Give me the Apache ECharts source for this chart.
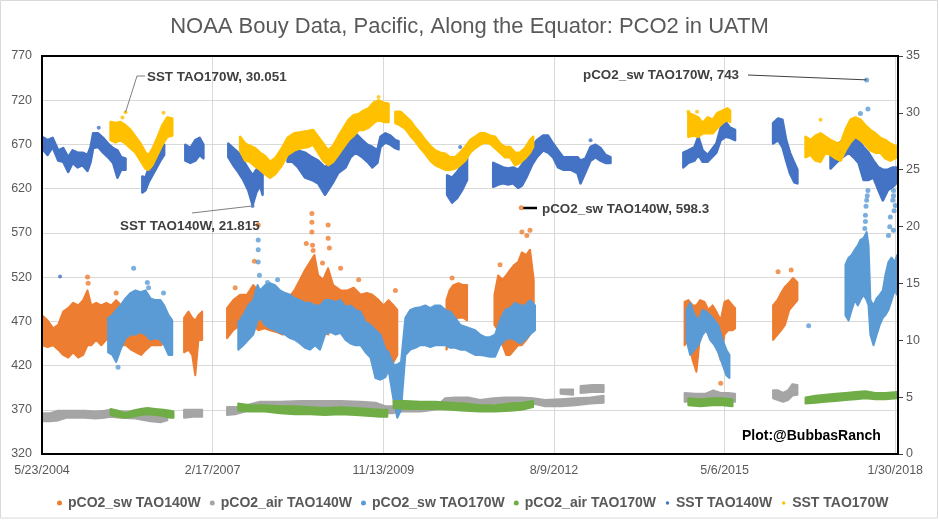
<!DOCTYPE html>
<html><head><meta charset="utf-8">
<script src="https://cdn.jsdelivr.net/npm/echarts@6/dist/echarts.min.js"></script>
<style>html,body{margin:0;padding:0;background:#fff}#c{width:939px;height:521px}</style>
</head><body><div id="c"></div>
<script>
// ---------- DATA (dates as decimal years; bands are [year, low, high]) ----------
const xTickLabels = ['5/23/2004','2/17/2007','11/13/2009','8/9/2012','5/6/2015','1/30/2018'];
const leftTicks = {min:320, max:770, step:50};
const rightTicks = {min:0, max:35, step:5};

const pco2sw140 = [
 [[2004.39,443,477],[2004.48,441,471],[2004.57,443,462],[2004.65,438,466],[2004.73,432,481],[2004.81,429,485],[2004.89,435,491],[2004.97,429,488],[2005.05,432,494],[2005.12,443,505],[2005.18,443,488],[2005.26,449,491],[2005.34,443,488],[2005.42,449,491],[2005.50,455,488],[2005.58,449,494],[2005.66,443,488],[2005.74,443,483],[2005.82,438,483],[2005.90,435,488],[2005.98,432,483],[2006.06,438,494],[2006.14,443,488],[2006.22,443,488],[2006.30,443,483],[2006.38,449,477]],
 [[2006.67,435,474],[2006.74,438,481],[2006.80,432,474],[2006.85,409,471],[2006.90,449,477],[2006.96,449,481]],
 [[2007.36,451,485],[2007.46,460,494],[2007.57,466,500],[2007.68,460,500],[2007.78,466,511],[2007.86,460,505],[2007.96,462,500],[2008.05,460,496],[2008.15,458,500],[2008.25,455,494],[2008.34,460,496],[2008.44,455,505],[2008.53,449,517],[2008.61,449,528],[2008.69,455,537],[2008.76,471,545],[2008.82,460,522],[2008.90,460,517],[2008.98,455,530],[2009.06,466,511],[2009.18,466,505],[2009.29,466,505],[2009.39,462,508],[2009.50,460,500],[2009.60,455,502],[2009.69,451,500],[2009.79,449,494],[2009.87,438,488],[2009.95,426,494],[2010.03,424,488],[2010.09,432,483]],
 [[2010.88,438,494],[2010.93,449,505],[2010.99,471,511],[2011.07,474,513],[2011.15,474,511],[2011.21,471,511]],
 [[2011.65,466,500],[2011.71,460,522],[2011.78,443,517],[2011.84,432,522],[2011.90,432,528],[2011.97,438,534],[2012.03,443,537],[2012.09,443,548],[2012.16,449,545],[2012.22,455,551],[2012.28,471,517]],
 [[2014.70,443,492],[2014.76,449,494],[2014.83,426,488],[2014.89,413,488],[2014.95,455,494],[2015.02,466,492],[2015.08,455,483],[2015.15,460,488],[2015.21,443,481],[2015.28,426,471],[2015.34,455,492],[2015.40,460,494],[2015.47,460,488],[2015.51,462,485]],
 [[2016.12,449,488],[2016.19,455,494],[2016.25,460,502],[2016.31,466,509],[2016.38,483,514],[2016.44,488,519],[2016.51,494,514]]
];
const pco2sw140Dots = [[2005.12,520],[2005.13,513],[2005.58,502],[2007.49,508],[2007.86,579],[2007.80,538],[2008.63,558],[2008.72,592],[2008.72,582],[2008.72,571],[2008.73,556],[2008.74,550],[2008.89,536],[2008.98,579],[2008.98,564],[2009.00,553],[2009.18,530],[2009.47,517],[2010.06,505],[2010.97,519],[2011.74,534],[2012.09,571],[2012.17,567],[2012.22,573],[2012.08,598.3],[2015.28,400],[2016.20,526],[2016.41,528]];

const pco2air140 = [
 [[2004.39,357,366],[2004.52,357,366],[2004.65,358,369],[2004.78,361,369],[2004.92,361,369],[2005.08,361,369],[2005.25,360,368],[2005.39,361,369],[2005.49,362,370],[2005.65,361,368],[2005.89,360,368],[2006.13,357,366],[2006.29,356,364],[2006.40,358,366]],
 [[2006.67,361,370],[2006.82,362,370],[2006.96,362,370]],
 [[2007.36,364,373],[2007.49,365,373],[2007.65,368,375],[2007.89,371,379],[2008.21,372,379],[2008.53,372,380],[2008.85,372,380],[2009.18,372,380],[2009.50,372,379],[2009.74,370,378],[2009.90,366,374],[2010.01,366,374],[2010.14,368,375],[2010.46,368,375],[2010.78,371,378],[2010.86,377,383],[2011.02,378,384],[2011.23,377,384],[2011.42,373,381],[2011.63,377,383],[2011.82,377,384],[2012.06,377,384],[2012.27,377,383],[2012.46,374,381],[2012.71,374,382],[2012.95,375,383],[2013.19,377,384],[2013.40,378,386]],
 [[2012.71,388,393],[2012.91,387,393]],
 [[2013.03,389,397],[2013.22,390,398],[2013.40,390,398]],
 [[2014.70,379,389],[2014.87,379,388],[2015.03,380,388],[2015.16,381,392],[2015.28,379,389],[2015.40,380,389],[2015.51,379,388]],
 [[2016.12,383,392],[2016.20,381,392],[2016.28,379,389],[2016.36,381,392],[2016.43,386,399],[2016.51,387,398]]
];

const pco2sw170 = [
 [[2005.45,435,474],[2005.52,432,477],[2005.58,424,483],[2005.65,438,488],[2005.73,451,496],[2005.81,455,502],[2005.89,455,505],[2005.97,458,503],[2006.05,455,505],[2006.13,449,496],[2006.21,451,494],[2006.29,449,494],[2006.35,443,488],[2006.42,432,477],[2006.48,432,471]],
 [[2007.54,438,469],[2007.62,443,477],[2007.70,449,488],[2007.78,455,494],[2007.85,471,511],[2007.89,474,505],[2007.97,466,511],[2008.05,462,513],[2008.13,460,511],[2008.21,457,505],[2008.29,455,502],[2008.37,451,500],[2008.45,449,496],[2008.53,445,494],[2008.61,440,491],[2008.69,438,491],[2008.77,443,488],[2008.85,438,488],[2008.93,455,494],[2009.01,458,494],[2009.10,455,492],[2009.18,457,494],[2009.26,449,486],[2009.34,445,488],[2009.42,443,483],[2009.50,443,481],[2009.58,435,469],[2009.66,429,466],[2009.74,406,460],[2009.82,404,455],[2009.90,407,438],[2009.95,415,435],[2010.03,381,421],[2010.09,361,421],[2010.15,370,424],[2010.22,432,474],[2010.30,438,483],[2010.38,440,485],[2010.46,443,486],[2010.54,443,488],[2010.62,441,485],[2010.70,443,488],[2010.78,443,488],[2010.86,443,483],[2010.94,440,481],[2011.02,440,474],[2011.10,438,466],[2011.18,438,464],[2011.26,435,462],[2011.34,432,460],[2011.42,432,455],[2011.50,431,452],[2011.58,430,452],[2011.66,430,455],[2011.74,443,471],[2011.82,449,483],[2011.90,451,485],[2011.98,449,491],[2012.06,445,488],[2012.14,449,488],[2012.22,455,494],[2012.30,460,488]],
 [[2014.73,449,483],[2014.79,432,491],[2014.86,438,477],[2014.92,443,471],[2014.99,455,483],[2015.05,460,481],[2015.11,449,477],[2015.18,443,471],[2015.24,435,466],[2015.31,421,449],[2015.37,409,438],[2015.42,406,432]],
 [[2017.28,477,534],[2017.33,471,542],[2017.38,483,545],[2017.43,494,551],[2017.48,488,556],[2017.52,494,562],[2017.57,500,564],[2017.62,494,571],[2017.65,488,556],[2017.68,455,494],[2017.73,443,488],[2017.78,455,496],[2017.83,466,500],[2017.88,474,505],[2017.92,477,522],[2017.97,483,537],[2018.02,494,542],[2018.07,505,537],[2018.11,500,545]]
];
const pco2sw170Dots = [[2005.86,530],[2006.08,514],[2006.10,508],[2006.34,502],[2005.61,418],[2007.86,562],[2007.86,551],[2007.86,537],[2007.88,522],[2008.01,514],[2008.17,517],[2016.69,465],[2017.52,705],[2017.64,710],[2017.62,743],[2017.59,575],[2017.60,583],[2017.60,590],[2017.61,600],[2017.62,607],[2017.63,612],[2017.64,618],[2017.97,567],[2017.99,577],[2018.00,588],[2018.04,607],[2018.05,618],[2018.05,612],[2018.06,595],[2018.08,601],[2018.05,573]];

const pco2air170 = [
 [[2005.49,364,371],[2005.61,362,369],[2005.73,361,366],[2005.84,362,369],[2005.97,364,371],[2006.08,365,372],[2006.21,364,371],[2006.34,363,370],[2006.45,361,369],[2006.50,361,368]],
 [[2007.54,369,377],[2007.73,368,375],[2007.97,368,375],[2008.21,366,374],[2008.45,365,374],[2008.69,365,373],[2008.93,364,372],[2009.18,365,373],[2009.42,364,372],[2009.66,363,371],[2009.82,362,370],[2009.93,362,370]],
 [[2010.03,372,380],[2010.22,371,380],[2010.46,371,379],[2010.70,371,379],[2010.94,370,378],[2011.18,369,377],[2011.42,368,375],[2011.66,368,375],[2011.90,369,377],[2012.09,370,378],[2012.27,373,380]],
 [[2014.76,375,383],[2014.95,374,382],[2015.15,375,383],[2015.31,375,383],[2015.47,374,382]],
 [[2016.64,377,384],[2016.80,378,386],[2016.96,379,387],[2017.12,380,388],[2017.28,381,389],[2017.44,382,390],[2017.60,383,391],[2017.76,382,389],[2017.92,382,389],[2018.11,383,390]]
];

const sst140 = [
 [[2004.39,26.9,27.9],[2004.48,26.3,27.6],[2004.56,27.0,27.8],[2004.65,25.8,26.7],[2004.73,25.7,26.9],[2004.81,24.8,26.1],[2004.88,25.6,26.7],[2004.96,25.2,26.5],[2005.04,25.4,26.5],[2005.12,24.9,26.3],[2005.17,25.7,27.0],[2005.21,26.9,28.2],[2005.29,27.0,28.2],[2005.37,26.5,27.8],[2005.45,26.1,27.3],[2005.53,25.6,26.9],[2005.60,24.3,26.7],[2005.66,25.0,26.1],[2005.73,25.0,26.0]],
 [[2006.00,23.0,24.4],[2006.05,23.2,24.3],[2006.10,23.9,25.1],[2006.16,24.5,25.8],[2006.22,25.1,26.5],[2006.29,25.8,27.0],[2006.35,26.3,27.2]],
 [[2006.69,25.8,27.2],[2006.77,25.6,26.9],[2006.85,25.8,27.6],[2006.92,26.3,27.8],[2006.98,26.0,27.2]],
 [[2007.38,26.1,27.3],[2007.46,25.4,26.9],[2007.54,24.8,26.5],[2007.62,24.1,25.8],[2007.70,23.2,25.1],[2007.77,21.9,24.5],[2007.83,23.0,25.0],[2007.89,23.6,25.4],[2007.93,22.8,25.0]],
 [[2008.33,25.7,26.9],[2008.41,25.7,26.9],[2008.50,25.2,26.7],[2008.61,24.3,26.5],[2008.72,24.1,26.1],[2008.82,23.8,25.8],[2008.93,22.8,25.2],[2009.05,23.8,25.8],[2009.14,24.7,26.5],[2009.26,25.2,27.3],[2009.34,26.1,27.9],[2009.42,26.5,28.2],[2009.53,26.1,27.6],[2009.61,25.7,27.2],[2009.69,25.2,27.0],[2009.77,25.6,26.7],[2009.82,27.0,27.9],[2009.90,27.4,28.2],[2009.98,27.2,28.0],[2010.06,26.9,27.6],[2010.11,26.8,27.5]],
 [[2010.89,22.8,24.5],[2010.97,22.1,24.3],[2011.05,22.5,24.8],[2011.13,23.2,25.4],[2011.21,24.1,26.3]],
 [[2011.63,23.5,25.6],[2011.71,23.7,25.4],[2011.79,23.8,25.2],[2011.87,23.7,25.1],[2011.95,23.8,25.2],[2012.03,23.4,25.0],[2012.09,23.6,25.4],[2012.16,24.3,26.1],[2012.25,25.4,27.0],[2012.33,26.1,27.6],[2012.43,26.7,28.0],[2012.51,26.5,28.0],[2012.59,26.1,27.3],[2012.67,25.2,26.7],[2012.75,25.0,26.1],[2012.87,25.0,26.1],[2012.98,24.7,26.1],[2013.03,23.8,25.8],[2013.11,24.8,26.0],[2013.19,25.8,27.0],[2013.27,26.1,27.2],[2013.35,25.8,26.9],[2013.43,25.6,26.3],[2013.51,25.6,26.1]],
 [[2014.68,25.2,26.5],[2014.76,25.6,26.7],[2014.86,25.8,27.0],[2014.92,26.3,27.9],[2014.99,25.7,26.7],[2015.07,25.7,26.3],[2015.21,26.5,27.3],[2015.28,27.6,28.7],[2015.36,27.9,29.2],[2015.43,27.8,28.7],[2015.51,27.6,28.5]],
 [[2016.12,27.3,29.1],[2016.20,27.6,29.5],[2016.27,27.0,29.4],[2016.33,25.8,27.6],[2016.39,24.7,26.5],[2016.46,23.9,25.6],[2016.51,23.8,25.0]],
 [[2017.04,25.1,26.5],[2017.13,25.6,27.0],[2017.23,26.1,27.6],[2017.33,26.5,27.9],[2017.41,26.1,28.2],[2017.49,25.6,27.6],[2017.57,24.1,27.0],[2017.65,24.1,26.5],[2017.73,24.3,25.8],[2017.81,23.2,25.2],[2017.88,22.3,25.0],[2017.96,23.2,25.0],[2018.04,23.5,25.2],[2018.11,23.9,25.2]]
];
const sst140Dots = [[2004.68,15.6],[2007.77,21.815],[2005.30,28.7],[2011.10,27.0],[2013.19,27.6]];

const sst170 = [
 [[2005.49,27.6,29.2],[2005.57,27.4,29.1],[2005.65,27.6,29.2],[2005.73,27.3,28.9],[2005.81,26.9,28.5],[2005.89,26.5,27.9],[2005.97,25.8,27.3],[2006.05,25.1,26.5],[2006.10,25.0,26.3],[2006.16,25.4,26.8],[2006.24,26.3,27.8],[2006.32,27.2,28.9],[2006.40,27.9,29.6],[2006.48,28.0,29.5]],
 [[2007.57,26.7,27.9],[2007.65,25.8,27.3],[2007.73,25.7,27.1],[2007.81,25.3,26.9],[2007.89,25.0,26.5],[2007.97,24.6,26.2],[2008.05,24.3,25.7],[2008.13,24.6,26.0],[2008.23,25.3,26.8],[2008.33,26.3,27.8],[2008.44,26.7,28.2],[2008.55,26.9,28.3],[2008.66,27.0,28.4],[2008.74,27.2,28.5],[2008.82,26.5,27.9],[2008.90,25.8,27.3],[2008.98,25.4,26.7],[2009.06,25.7,27.1],[2009.14,26.3,27.9],[2009.23,27.0,28.7],[2009.31,27.6,29.4],[2009.39,28.0,29.8],[2009.47,28.5,29.9],[2009.55,28.5,30.2],[2009.63,28.7,30.4],[2009.71,29.1,30.9],[2009.79,29.4,31.1],[2009.87,29.2,30.9],[2009.95,29.2,30.8]],
 [[2010.06,29.1,30.1],[2010.14,28.9,30.1],[2010.22,28.6,29.7],[2010.30,28.0,29.3],[2010.38,27.5,28.7],[2010.46,26.9,28.2],[2010.54,26.4,27.6],[2010.62,25.8,27.1],[2010.70,25.4,26.7],[2010.78,25.2,26.5],[2010.86,25.0,26.4],[2010.94,25.0,26.1],[2011.02,25.1,26.1],[2011.10,25.4,26.5],[2011.18,25.8,27.0],[2011.26,26.5,27.6],[2011.34,26.9,27.9],[2011.42,27.2,28.2],[2011.50,27.4,28.2],[2011.58,27.3,28.0],[2011.66,26.9,27.9],[2011.74,26.5,27.3],[2011.82,26.1,27.0],[2011.90,26.1,27.0],[2011.98,25.4,26.5],[2012.06,25.6,26.5],[2012.14,26.0,26.9],[2012.22,26.5,27.6],[2012.27,27.0,27.9]],
 [[2014.76,27.9,30.0],[2014.84,28.0,29.8],[2014.92,27.9,29.6],[2014.99,28.2,29.1],[2015.07,28.2,29.6],[2015.15,28.2,29.4],[2015.23,28.7,30.0],[2015.31,29.1,30.2],[2015.39,29.4,30.4],[2015.43,29.2,30.2]],
 [[2016.64,26.1,27.9],[2016.72,26.3,27.6],[2016.80,25.8,28.0],[2016.88,25.7,28.2],[2016.96,26.5,27.9],[2017.04,26.3,27.6],[2017.12,26.0,27.4],[2017.20,25.8,27.3],[2017.28,26.7,28.5],[2017.36,27.4,29.4],[2017.44,27.9,29.6],[2017.52,27.6,29.4],[2017.60,27.2,28.9],[2017.68,26.7,28.5],[2017.76,26.5,28.2],[2017.84,26.5,27.8],[2017.92,26.0,27.6],[2018.00,25.8,27.3],[2018.11,26.1,27.0]]
];
const sst170Dots = [[2005.73,30.051],[2005.68,29.6],[2006.34,30.0],[2009.79,31.4],[2014.76,30.1],[2014.90,30.1],[2016.88,29.4]];

const notes = [
 {text:'SST TAO170W, 30.051', yr:2005.73, value:30.051, axis:1, tx:147, ty:77, via:[[145,76],[137,76]], color:'#7f7f7f', w:1},
 {text:'SST TAO140W, 21.815', yr:2007.77, value:21.815, axis:1, tx:120, ty:226, via:[[192,213]], color:'#7f7f7f', w:1},
 {text:'pCO2_sw TAO140W, 598.3', yr:2012.08, value:598.3, axis:0, tx:542, ty:209, via:[[537,208]], color:'#000', w:2.5, flat:true},
 {text:'pCO2_sw TAO170W, 743', yr:2017.62, value:743, axis:0, tx:583, ty:75, via:[[748,75]], color:'#404040', w:1}
];

// ---------- RENDER ----------
const FONT = 'Liberation Sans';
const GRID = {left:42, right:41, top:56, bottom:67};
const X_MIN = Date.UTC(2004,4,23), X_MAX = Date.UTC(2018,1,15), X_STEP = 1000*86400000;
function toT(y){const Y=Math.floor(y);const a=Date.UTC(Y,0,1),b=Date.UTC(Y+1,0,1);return a+(y-Y)*(b-a);}
function dotIcon(c,r){return 'image://data:image/svg+xml;charset=utf-8,'+encodeURIComponent('<svg xmlns="http://www.w3.org/2000/svg" width="14" height="14" viewBox="0 0 14 14"><circle cx="7" cy="7" r="'+r+'" fill="'+c+'"/></svg>');}

function band(name, segs, color, yAxisIndex, lw){
  return {type:'custom', name, yAxisIndex, clip:true, silent:true,
    data: segs.map((s,i)=>[toT(s[0][0]), s[0][1], i]),
    encode:{x:0,y:1},
    renderItem(params, api){
      const seg = segs[api.value(2)];
      const pts = [];
      for (const p of seg) pts.push(api.coord([toT(p[0]), p[1]]));
      for (let k=seg.length-1;k>=0;k--) pts.push(api.coord([toT(seg[k][0]), seg[k][2]]));
      return {type:'polygon', shape:{points:pts}, style:{fill:color, stroke:color, lineWidth:lw, lineJoin:'round'}};
    }};
}
function dots(name, pts, color, yAxisIndex, size){
  return {type:'scatter', name, yAxisIndex, symbolSize:size, silent:true,
    itemStyle:{color}, data: pts.map(p=>[toT(p[0]), p[1]])};
}

const C = {sw140:'#ED7D31', air140:'#A5A5A5', sw170:'#5B9BD5', air170:'#70AD47', sst140:'#4472C4', sst170:'#FFC000'};
const N = {sw140:'pCO2_sw TAO140W', air140:'pCO2_air TAO140W', sw170:'pCO2_sw TAO170W', air170:'pCO2_air TAO170W', sst140:'SST TAO140W', sst170:'SST TAO170W'};

const chart = echarts.init(document.getElementById('c'), null, {renderer:'canvas'});
const lbl = {color:'#595959', fontSize:12.5, fontFamily:FONT};
chart.setOption({
  animation:false, backgroundColor:'#fff',
  title:{text:'NOAA Bouy Data, Pacific, Along the Equator: PCO2 in UATM', left:'center', top:11,
    textStyle:{fontFamily:FONT, fontSize:22, fontWeight:'normal', color:'#595959'}},
  grid:{left:GRID.left, right:GRID.right, top:GRID.top, bottom:GRID.bottom, containLabel:false, outerBoundsMode:'none'},
  legend:{left:51, top:491, itemWidth:7, itemHeight:7, itemGap:8, selectedMode:false,
    textStyle:{fontFamily:FONT, fontSize:14, fontWeight:'bold', color:'#595959'},
    data:[
      {name:N.sw140, icon:dotIcon(C.sw140,5)},
      {name:N.air140, icon:dotIcon(C.air140,5)},
      {name:N.sw170, icon:dotIcon(C.sw170,5)},
      {name:N.air170, icon:dotIcon(C.air170,5)},
      {name:N.sst140, icon:dotIcon(C.sst140,3.4)},
      {name:N.sst170, icon:dotIcon(C.sst170,3.4)}
    ]},
  xAxis:{type:'value', min:X_MIN, max:X_MAX, interval:X_STEP,
    axisLine:{show:false}, axisTick:{show:false},
    axisLabel:{...lbl, margin:10, showMaxLabel:true, formatter:v=>{const k=(v-X_MIN)/X_STEP; const r=Math.round(k); return (Math.abs(k-r)<1e-6 && r<xTickLabels.length)? xTickLabels[r] : '';}},
    splitLine:{show:true, lineStyle:{color:'#d9d9d9', width:1}}},
  yAxis:[
    {type:'value', min:leftTicks.min, max:leftTicks.max, interval:leftTicks.step, position:'left',
      axisLine:{show:false}, axisTick:{show:false}, axisLabel:{...lbl, margin:10},
      splitLine:{show:true, lineStyle:{color:'#d9d9d9', width:1}}},
    {type:'value', min:rightTicks.min, max:rightTicks.max, interval:rightTicks.step, position:'right',
      axisLine:{show:true, lineStyle:{color:'#000', width:2}}, axisTick:{show:true, length:5, lineStyle:{color:'#404040'}},
      axisLabel:{...lbl, margin:8}, splitLine:{show:false}}
  ],
  series:[
    band(N.sw140, pco2sw140, C.sw140, 0, 2), dots(N.sw140, pco2sw140Dots, C.sw140, 0, 5),
    band(N.air140, pco2air140, C.air140, 0, 2),
    band(N.sw170, pco2sw170, C.sw170, 0, 2), dots(N.sw170, pco2sw170Dots, C.sw170, 0, 5),
    band(N.air170, pco2air170, C.air170, 0, 2),
    band(N.sst140, sst140, C.sst140, 1, 2.5), dots(N.sst140, sst140Dots, C.sst140, 1, 4),
    band(N.sst170, sst170, C.sst170, 1, 2.5), dots(N.sst170, sst170Dots, C.sst170, 1, 4)
  ]
});

// annotations, borders
const W = 939, H = 521;
const g = [
  {type:'rect', z:100, silent:true, shape:{x:GRID.left, y:GRID.top, width:W-GRID.left-GRID.right, height:H-GRID.top-GRID.bottom}, style:{fill:'none', stroke:'#000', lineWidth:2}},
  {type:'rect', z:100, silent:true, shape:{x:0.5, y:0.5, width:W-2, height:H-3.5}, style:{fill:'none', stroke:'#d9d9d9', lineWidth:1}},
  {type:'text', z:100, silent:true, style:{x:742, y:436, text:'Plot:@BubbasRanch', font:'bold 14px '+FONT, fill:'#000', textVerticalAlign:'middle'}}
];
for (const n of notes){
  const p = chart.convertToPixel({xAxisIndex:0, yAxisIndex:n.axis}, [toT(n.yr), n.value]);
  const pts = n.via.map(q=>q.slice());
  if (n.flat) pts.push([p[0]+2, n.via[0][1]]); else pts.push(p);
  g.push({type:'polyline', z:100, silent:true, shape:{points:pts}, style:{stroke:n.color, lineWidth:n.w, fill:'none'}});
  g.push({type:'text', z:100, silent:true, style:{x:n.tx, y:n.ty, text:n.text, font:'bold 13.4px '+FONT, fill:'#404040', textVerticalAlign:'middle'}});
}
chart.setOption({graphic:g});
</script></body></html>
